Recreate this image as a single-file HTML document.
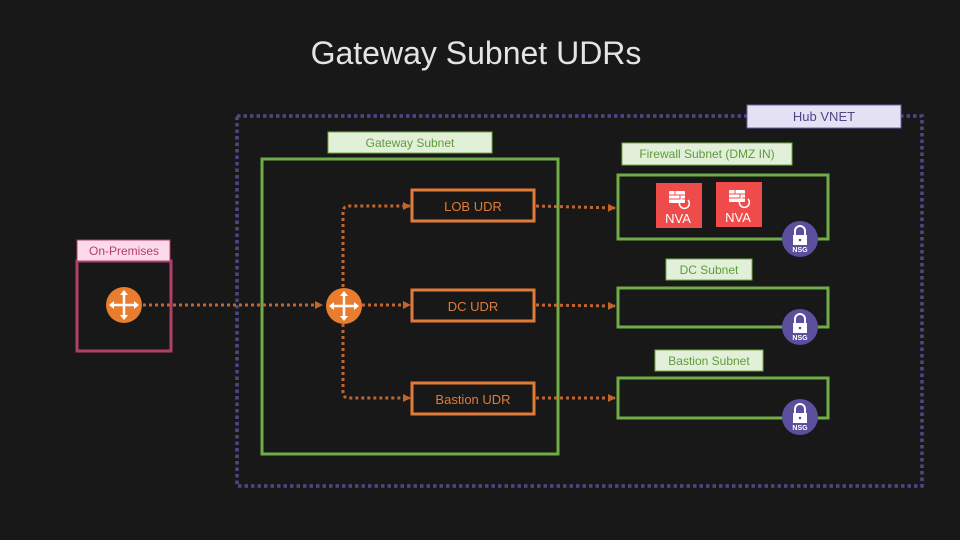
<!DOCTYPE html>
<html><head><meta charset="utf-8"><style>
html,body{margin:0;padding:0;background:#181818;}
svg{display:block}
text{font-family:"Liberation Sans",sans-serif;}
</style></head><body>
<svg width="960" height="540" viewBox="0 0 960 540" xmlns="http://www.w3.org/2000/svg">
<defs>
<marker id="ar" markerWidth="8" markerHeight="8" refX="7" refY="4" orient="auto" markerUnits="userSpaceOnUse">
<path d="M0,0 L8,4 L0,8 z" fill="#c0652e"/></marker>
<g id="router">
<circle r="18" fill="#e87d2f"/>
<g stroke="#fff" stroke-width="2.5" fill="none"><line x1="-12" y1="0" x2="12" y2="0"/><line x1="0" y1="-12" x2="0" y2="12"/></g>
<g fill="#fff"><path d="M-15,0 L-10,-4 L-10,4z"/><path d="M15,0 L10,-4 L10,4z"/><path d="M0,-15 L-4,-10 L4,-10z"/><path d="M0,15 L-4,10 L4,10z"/></g>
</g>
<g id="nsg">
<circle r="18" fill="#5b4f9e"/>
<path d="M-5,-4 v-4 a5,5 0 0 1 10,0 v4" fill="none" stroke="#fff" stroke-width="2"/>
<rect x="-7" y="-4" width="14" height="10" fill="#fff"/>
<circle cx="0" cy="1" r="1.3" fill="#5b4f9e"/>
<text x="0" y="13" font-size="7" fill="#fff" text-anchor="middle" font-weight="bold">NSG</text>
</g>
<g id="fw">
<g fill="#fff"><rect x="-9" y="-14" width="16" height="12" rx="1"/></g>
<g stroke="#f04b4b" stroke-width="1"><line x1="-9" y1="-10" x2="7" y2="-10"/><line x1="-9" y1="-6" x2="7" y2="-6"/><line x1="-3" y1="-14" x2="-3" y2="-10"/><line x1="2" y1="-10" x2="2" y2="-6"/></g>
<path d="M4,-6 a5,5 0 1 0 6,1" fill="none" stroke="#fff" stroke-width="1.5"/>
</g>
</defs>
<text x="476" y="64" font-size="32" fill="#e4e4e4" text-anchor="middle">Gateway Subnet UDRs</text>

<rect x="237" y="116" width="685" height="370" fill="none" stroke="#4d4785" stroke-width="3.5" stroke-dasharray="3.5,3"/>
<rect x="747" y="105" width="154" height="23" fill="#e4e1f5" stroke="#6c64a8" stroke-width="1"/>
<text x="824" y="121" font-size="13" fill="#4d4785" text-anchor="middle">Hub VNET</text>

<rect x="262" y="159" width="296" height="295" fill="none" stroke="#70ad47" stroke-width="3"/>
<rect x="328" y="132" width="164" height="21" fill="#e2f0d9" stroke="#70ad47" stroke-width="1"/>
<text x="410" y="147" font-size="12" fill="#5e9b3a" text-anchor="middle">Gateway Subnet</text>

<rect x="618" y="175" width="210" height="64" fill="none" stroke="#70ad47" stroke-width="3"/>
<rect x="622" y="143" width="170" height="22" fill="#e2f0d9" stroke="#70ad47" stroke-width="1"/>
<text x="707" y="158" font-size="12" fill="#5e9b3a" text-anchor="middle">Firewall Subnet (DMZ IN)</text>

<rect x="618" y="288" width="210" height="39" fill="none" stroke="#70ad47" stroke-width="3"/>
<rect x="666" y="259" width="86" height="21" fill="#e2f0d9" stroke="#70ad47" stroke-width="1"/>
<text x="709" y="274" font-size="12" fill="#5e9b3a" text-anchor="middle">DC Subnet</text>

<rect x="618" y="378" width="210" height="40" fill="none" stroke="#70ad47" stroke-width="3"/>
<rect x="655" y="350" width="108" height="21" fill="#e2f0d9" stroke="#70ad47" stroke-width="1"/>
<text x="709" y="365" font-size="12" fill="#5e9b3a" text-anchor="middle">Bastion Subnet</text>

<rect x="656" y="183" width="46" height="45" fill="#f04b4b"/>
<use href="#fw" x="678" y="205"/>
<text x="678" y="223" font-size="13" fill="#fff" text-anchor="middle">NVA</text>
<rect x="716" y="182" width="46" height="45" fill="#f04b4b"/>
<use href="#fw" x="738" y="204"/>
<text x="738" y="222" font-size="13" fill="#fff" text-anchor="middle">NVA</text>

<use href="#nsg" x="800" y="239"/>
<use href="#nsg" x="800" y="327"/>
<use href="#nsg" x="800" y="417"/>

<rect x="77" y="261" width="94" height="90" fill="none" stroke="#b0406a" stroke-width="3"/>
<rect x="77" y="240" width="93" height="21" fill="#fdd9ec" stroke="#b0406a" stroke-width="1"/>
<text x="124" y="255" font-size="12" fill="#b0406a" text-anchor="middle">On-Premises</text>

<g stroke="#c0652e" stroke-width="3" stroke-dasharray="3,3" fill="none">
<line x1="143" y1="305" x2="322" y2="305" marker-end="url(#ar)"/>
<line x1="362" y1="305" x2="410" y2="305" marker-end="url(#ar)"/>
<path d="M343,287 V212 Q343,206 349,206 H410" marker-end="url(#ar)"/>
<path d="M343,324 V392 Q343,398 349,398 H410" marker-end="url(#ar)"/>
<line x1="536" y1="206" x2="615" y2="208" marker-end="url(#ar)"/>
<line x1="536" y1="305" x2="615" y2="306" marker-end="url(#ar)"/>
<line x1="536" y1="398" x2="615" y2="398" marker-end="url(#ar)"/>
</g>

<use href="#router" x="124" y="305"/>
<use href="#router" x="344" y="306"/>

<g fill="#181818" stroke="#e07b39" stroke-width="3">
<rect x="412" y="190" width="122" height="31"/>
<rect x="412" y="290" width="122" height="31"/>
<rect x="412" y="383" width="122" height="31"/>
</g>
<g font-size="13" fill="#e07b39" text-anchor="middle">
<text x="473" y="211">LOB UDR</text>
<text x="473" y="311">DC UDR</text>
<text x="473" y="404">Bastion UDR</text>
</g>
</svg>
</body></html>
